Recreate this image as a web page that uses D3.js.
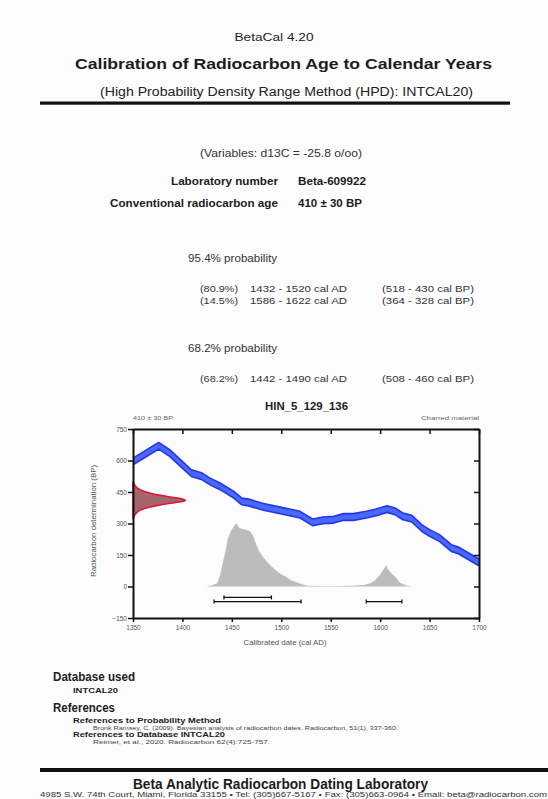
<!doctype html>
<html lang="en">
<head>
<meta charset="utf-8">
<title>BetaCal 4.20 - Beta-609922</title>
<style>
  body { margin: 0; background: #fcfcfc; }
  svg { display: block; font-family: "Liberation Sans", Arial, sans-serif; }
</style>
</head>
<body>
<script src="https://d3js.org/d3.v7.min.js"></script>
<script>
// calibration curve (INTCAL20)
var curveYears = [1350, 1376, 1387, 1398, 1409, 1420, 1428, 1438, 1452, 1460, 1467, 1482, 1499, 1519, 1532, 1542,
                  1553, 1563, 1573, 1586, 1596, 1607, 1615, 1623, 1632, 1642, 1650, 1660, 1672, 1679, 1700];
var curveBP    = [595, 670, 636, 588, 540, 524, 500, 477, 437, 405, 400, 379, 362, 342, 305, 315,
                  318, 331, 331, 342, 353, 369, 358, 334, 323, 279, 255, 231, 183, 172, 115];
var curveSigma = 16;

// measured age 410 +/- 30 BP (red curve on y axis), relative density
var sampleBP      = [500, 490, 478, 466, 455, 445, 435, 425, 418, 410, 402, 395, 385, 375, 365, 352, 338, 320];
var sampleDensity = [0, 0.02, 0.05, 0.10, 0.19, 0.32, 0.50, 0.75, 0.92, 1.0, 0.88, 0.68, 0.45, 0.27, 0.15, 0.07, 0.03, 0];

// calibrated probability (gray), relative density
var pdfYears   = [1424, 1430, 1435, 1438, 1441, 1444, 1446, 1449, 1451, 1453, 1455, 1457, 1459, 1462, 1465, 1468,
                  1471, 1474, 1477, 1481, 1485, 1490, 1495, 1500, 1505, 1510, 1515, 1520, 1526, 1540, 1556,
                  1570, 1583, 1590, 1595, 1600, 1603, 1606, 1608, 1611, 1615, 1618, 1620, 1626, 1632];
var pdfDensity = [0, 0.02, 0.05, 0.17, 0.38, 0.6, 0.76, 0.88, 0.93, 0.98, 1.0, 0.94, 0.92, 0.91, 0.9, 0.88,
                  0.82, 0.7, 0.58, 0.48, 0.40, 0.32, 0.25, 0.19, 0.15, 0.1, 0.07, 0.04, 0.01, 0.006, 0.006,
                  0.01, 0.025, 0.05, 0.1, 0.19, 0.26, 0.34, 0.27, 0.22, 0.16, 0.1, 0.06, 0.02, 0];

var hpd95 = [[1432, 1520], [1586, 1622]];
var hpd68 = [[1442, 1490]];

var xTicks = [1350, 1400, 1450, 1500, 1550, 1600, 1650, 1700];
var yTicks = [-150, 0, 150, 300, 450, 600, 750];

var ranges95 = [["(80.9%)", "1432 - 1520 cal  AD", "(518 - 430 cal  BP)"],
                ["(14.5%)", "1586 - 1622 cal  AD", "(364 - 328 cal  BP)"]];
var ranges68 = [["(68.2%)", "1442 - 1490 cal  AD", "(508 - 460 cal  BP)"]];

var W = 548, H = 799;
var svg = d3.select("body").append("svg").attr("width", W).attr("height", H);
svg.append("rect").attr("width", W).attr("height", H).attr("fill", "#fcfcfc");

function txt(s, x, y, size, opts) {
    opts = opts || {};
    var t = svg.append("text")
        .attr("x", x).attr("y", y)
        .attr("font-size", size)
        .attr("font-weight", opts.bold ? "bold" : "normal")
        .attr("fill", opts.color || "#1c1c1c")
        .attr("text-anchor", opts.anchor || "start")
        .text(s);
    if (opts.len) t.attr("textLength", opts.len).attr("lengthAdjust", "spacingAndGlyphs");
    return t;
}

// header
txt("BetaCal 4.20", 274, 40.5, 11.5, {anchor: "middle", len: 79, color: "#222"});
txt("Calibration of Radiocarbon Age to Calendar Years", 283.5, 69, 15, {anchor: "middle", bold: true, len: 417});
txt("(High Probability Density Range Method (HPD): INTCAL20)", 286.5, 96, 12.5, {anchor: "middle", len: 373, color: "#222"});
svg.append("rect").attr("x", 40).attr("y", 101.5).attr("width", 470).attr("height", 3.2).attr("fill", "#111");

txt("(Variables: d13C = -25.8 o/oo)", 200, 156.5, 10, {len: 162, color: "#333"});
txt("Laboratory number", 278, 184.5, 10, {anchor: "end", bold: true, len: 107});
txt("Beta-609922", 298, 184.5, 10, {bold: true, len: 68});
txt("Conventional radiocarbon age", 278, 206.5, 10, {anchor: "end", bold: true, len: 168});
txt("410 \u00b1 30 BP", 298, 206.5, 10, {bold: true, len: 64});

txt("95.4% probability", 188, 261.5, 10, {len: 89, color: "#333"});
ranges95.forEach(function(r, i) {
    var yy = 291.5 + i * 12;
    txt(r[0], 200, yy, 9, {len: 38, color: "#333"});
    txt(r[1], 250, yy, 9, {len: 97, color: "#333"});
    txt(r[2], 382, yy, 9, {len: 92, color: "#333"});
});
txt("68.2% probability", 188, 351.5, 10, {len: 89, color: "#333"});
ranges68.forEach(function(r, i) {
    var yy = 381.5 + i * 12;
    txt(r[0], 200, yy, 9, {len: 38, color: "#333"});
    txt(r[1], 250, yy, 9, {len: 97, color: "#333"});
    txt(r[2], 382, yy, 9, {len: 92, color: "#333"});
});

// chart
var x = d3.scaleLinear().domain([1350, 1700]).range([133, 479]);
var y = d3.scaleLinear().domain([-150, 750]).range([618, 429]);
var redW = d3.scaleLinear().domain([0, 1]).range([1350, 1403]);
var pdfH = d3.scaleLinear().domain([0, 1]).range([0, 300]);

txt("HIN_5_129_136", 306.5, 410, 11, {anchor: "middle", bold: true, len: 83});
txt("410 \u00b1 30 BP", 133, 420, 6, {len: 40, color: "#666"});
txt("Charred material", 479, 420, 6, {anchor: "end", len: 58, color: "#666"});

var plot = svg.append("g");

// gray calibrated probability
var pdf = pdfYears.map(function(d, i) { return [d, pdfDensity[i]]; });
plot.append("path")
    .datum(pdf)
    .attr("fill", "#bcbcbc")
    .attr("d", d3.area()
        .x(function(d) { return x(d[0]); })
        .y0(y(0))
        .y1(function(d) { return y(pdfH(d[1])); }));

// calibration curve band
var curve = curveYears.map(function(d, i) { return [d, curveBP[i]]; });
plot.append("path")
    .datum(curve)
    .attr("fill", "#4a68ff")
    .attr("d", d3.area()
        .x(function(d) { return x(d[0]); })
        .y0(function(d) { return y(d[1] - curveSigma); })
        .y1(function(d) { return y(d[1] + curveSigma); }));
[curveSigma, -curveSigma].forEach(function(s) {
    plot.append("path")
        .datum(curve)
        .attr("fill", "none")
        .attr("stroke", "#2238e0")
        .attr("stroke-width", 1.6)
        .attr("stroke-linejoin", "round")
        .attr("d", d3.line()
            .x(function(d) { return x(d[0]); })
            .y(function(d) { return y(d[1] + s); }));
});

// measured age distribution
var sample = sampleBP.map(function(d, i) { return [d, sampleDensity[i]]; });
plot.append("path")
    .datum(sample)
    .attr("fill", "#a4666c")
    .attr("stroke", "#e0143c")
    .attr("stroke-width", 1.6)
    .attr("d", d3.area()
        .curve(d3.curveMonotoneY)
        .y(function(d) { return y(d[0]); })
        .x0(x(1350))
        .x1(function(d) { return x(redW(d[1])); }));

// HPD range bars
function bars(data, level) {
    var g = plot.append("g").attr("stroke", "#111").attr("stroke-width", 1.3);
    data.forEach(function(r) {
        var yy = y(level);
        g.append("line").attr("x1", x(r[0])).attr("x2", x(r[1])).attr("y1", yy).attr("y2", yy);
        g.append("line").attr("x1", x(r[0])).attr("x2", x(r[0])).attr("y1", yy - 2).attr("y2", yy + 2);
        g.append("line").attr("x1", x(r[1])).attr("x2", x(r[1])).attr("y1", yy - 2).attr("y2", yy + 2);
    });
}
bars(hpd68, -52);
bars(hpd95, -72);

// axes
function styleAxis(g, labels) {
    g.select(".domain").attr("stroke", "#111").attr("stroke-width", 2);
    g.selectAll(".tick line").attr("stroke", "#111").attr("stroke-width", 1.5);
    g.selectAll(".tick text").attr("fill", "#555").attr("font-size", 6.5)
        .attr("font-family", "'Liberation Sans', Arial, sans-serif");
    if (!labels) g.selectAll(".tick text").remove();
}
svg.append("g").attr("transform", "translate(0," + y(-150) + ")")
    .call(d3.axisBottom(x).tickValues(xTicks).tickSize(4).tickSizeOuter(0).tickPadding(3).tickFormat(d3.format("d")))
    .call(styleAxis, true);
svg.append("g").attr("transform", "translate(0," + y(750) + ")")
    .call(d3.axisTop(x).tickValues(xTicks).tickSize(-5).tickSizeOuter(0))
    .call(styleAxis, false);
svg.append("g").attr("transform", "translate(" + x(1350) + ",0)")
    .call(d3.axisLeft(y).tickValues(yTicks).tickSize(5).tickSizeOuter(0).tickPadding(1))
    .call(styleAxis, true);
svg.append("g").attr("transform", "translate(" + x(1700) + ",0)")
    .call(d3.axisRight(y).tickValues(yTicks).tickSize(-5).tickSizeOuter(0))
    .call(styleAxis, false);

txt("Calibrated date (cal AD)", 285, 645, 6.5, {anchor: "middle", len: 83, color: "#555"});
txt("Radiocarbon determination (BP)", 0, 0, 6.5, {anchor: "middle", len: 112, color: "#555"})
    .attr("transform", "translate(95.5,521) rotate(-90)");

// database / references
txt("Database used", 53, 681, 12, {bold: true, len: 82});
txt("INTCAL20", 73, 693, 8, {bold: true, len: 45});
txt("References", 53, 712, 12, {bold: true, len: 62});
txt("References to Probability Method", 73, 722.5, 7.5, {bold: true, len: 148});
txt("Bronk Ramsey, C. (2009). Bayesian analysis of radiocarbon dates. Radiocarbon, 51(1), 337-360.", 93, 729.5, 5.8, {len: 305, color: "#444"});
txt("References to Database INTCAL20", 73, 736.5, 7.5, {bold: true, len: 152});
txt("Reimer, et al., 2020. Radiocarbon 62(4):725-757.", 93, 743.5, 5.8, {len: 177, color: "#444"});

// footer
svg.append("rect").attr("x", 40).attr("y", 768).attr("width", 508).attr("height", 4).attr("fill", "#111");
txt("Beta Analytic Radiocarbon Dating Laboratory", 280.5, 789, 14.5, {anchor: "middle", bold: true, len: 295});
txt("4985 S.W. 74th Court, Miami, Florida 33155 \u2022  Tel: (305)667-5167 \u2022  Fax: (305)663-0964 \u2022  Email: beta@radiocarbon.com",
    40, 797, 7, {len: 507, color: "#333"});
</script>
</body>
</html>
